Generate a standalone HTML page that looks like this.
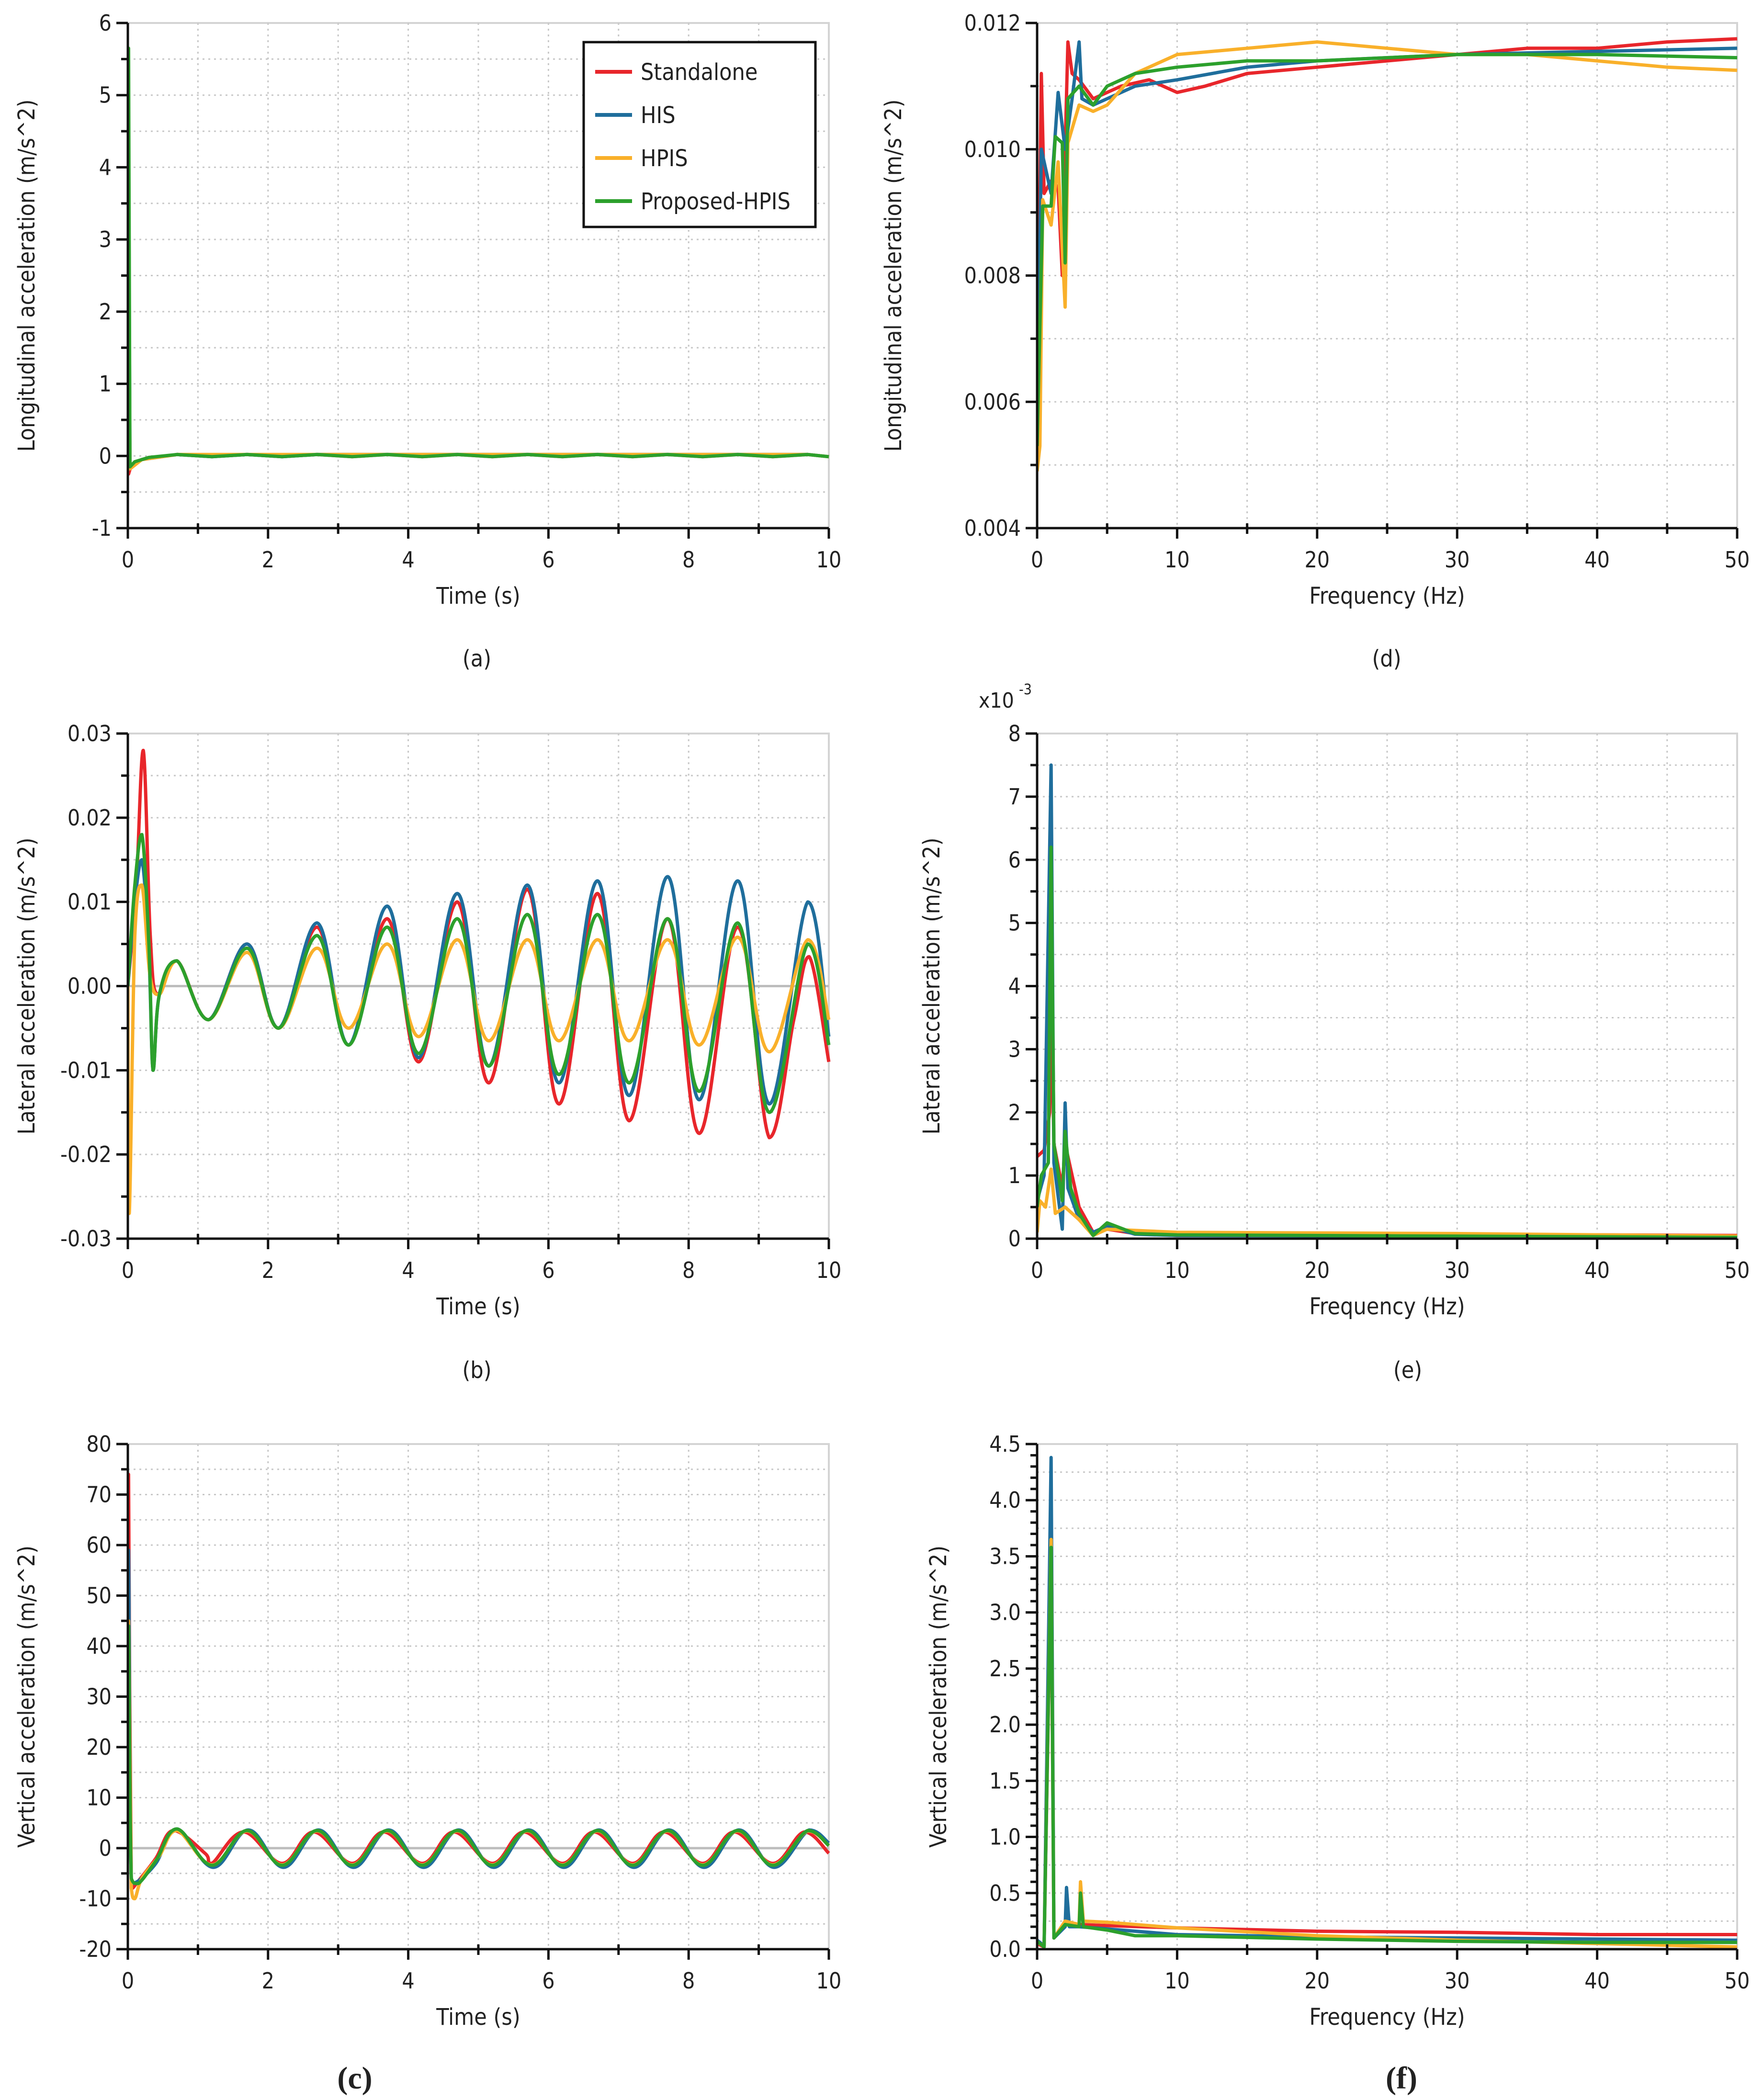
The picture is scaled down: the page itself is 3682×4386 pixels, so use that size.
<!DOCTYPE html>
<html><head><meta charset="utf-8"><style>
html,body{margin:0;padding:0;background:#fff}
svg{display:block}
text{fill:#222}
.sans{font-family:"DejaVu Sans Condensed","Liberation Sans",sans-serif}
.serif{font-family:"Liberation Serif",serif;font-weight:bold}
</style></head>
<body>
<svg id="fig" xmlns="http://www.w3.org/2000/svg" width="3682" height="4386" viewBox="0 0 3682 4386">
<rect width="3682" height="4386" fill="#fff"/>
</svg>
<script>
// ---- series names & colors ----
const seriesNames = ["Standalone","HIS","HPIS","Proposed-HPIS"];
const seriesColors = ["#e8262b","#1f6e9c","#f9b02a","#2ca02c"];

// ---- (a) longitudinal time ----
const aRed = [[0,0],[0.01,-0.25],[0.05,-0.12],[0.2,-0.05],[0.7,0.02],[1.2,-0.01],[1.7,0.02],[2.2,-0.01],[2.7,0.02],[3.2,-0.01],[3.7,0.02],[4.2,-0.01],[4.7,0.02],[5.2,-0.01],[5.7,0.02],[6.2,-0.01],[6.7,0.02],[7.2,-0.01],[7.7,0.02],[8.2,-0.01],[8.7,0.02],[9.2,-0.01],[9.7,0.02],[10,-0.01]];
const aBlue = [[0,0],[0.01,4.5],[0.03,-0.15],[0.2,-0.05],[0.7,0.02],[1.2,-0.01],[1.7,0.02],[2.2,-0.01],[2.7,0.02],[3.7,0.02],[4.7,0.02],[5.7,0.02],[6.7,0.02],[7.7,0.02],[8.7,0.02],[9.7,0.02],[10,-0.01]];
const aYellow = [[0,0],[0.01,3.5],[0.03,-0.18],[0.2,-0.05],[0.7,0.02],[1.7,0.02],[2.7,0.02],[3.7,0.02],[4.7,0.02],[5.7,0.02],[6.7,0.02],[7.7,0.02],[8.7,0.02],[9.7,0.02],[10,-0.01]];
const aGreen = [[0,0],[0.01,5.65],[0.03,-0.15],[0.1,-0.08],[0.3,-0.02],[0.7,0.02],[1.2,-0.01],[1.7,0.02],[2.2,-0.01],[2.7,0.02],[3.2,-0.01],[3.7,0.02],[4.2,-0.01],[4.7,0.02],[5.2,-0.01],[5.7,0.02],[6.2,-0.01],[6.7,0.02],[7.2,-0.01],[7.7,0.02],[8.2,-0.01],[8.7,0.02],[9.2,-0.01],[9.7,0.02],[10,-0.01]];

// ---- (b) lateral time ----
const bRed = [[0,0],[0.12,0.012],[0.22,0.028],[0.32,0.006],[0.42,-0.001],[0.7,0.003],[1.15,-0.004],[1.7,0.005],[2.15,-0.005],[2.7,0.007],[3.15,-0.007],[3.7,0.008],[4.15,-0.009],[4.7,0.010],[5.15,-0.0115],[5.7,0.0115],[6.15,-0.014],[6.7,0.011],[7.15,-0.016],[7.7,0.008],[8.15,-0.0175],[8.7,0.007],[9.15,-0.018],[9.5,-0.004],[9.72,0.0035],[10,-0.009]];
const bBlue = [[0,0],[0.1,0.01],[0.2,0.015],[0.3,0.004],[0.36,-0.01],[0.45,-0.001],[0.7,0.003],[1.15,-0.004],[1.7,0.005],[2.15,-0.005],[2.7,0.0075],[3.15,-0.007],[3.7,0.0095],[4.15,-0.0085],[4.7,0.011],[5.15,-0.0095],[5.7,0.012],[6.15,-0.0115],[6.7,0.0125],[7.15,-0.013],[7.7,0.013],[8.15,-0.0135],[8.7,0.0125],[9.15,-0.014],[9.7,0.010],[10,-0.006]];
const bYellow = [[0,0],[0.02,-0.027],[0.1,0.006],[0.2,0.012],[0.32,0.001],[0.45,-0.001],[0.7,0.003],[1.15,-0.004],[1.7,0.004],[2.15,-0.005],[2.7,0.0045],[3.15,-0.005],[3.7,0.005],[4.15,-0.006],[4.7,0.0055],[5.15,-0.0065],[5.7,0.0055],[6.15,-0.0065],[6.7,0.0055],[7.15,-0.0065],[7.7,0.0055],[8.15,-0.007],[8.7,0.0058],[9.15,-0.0078],[9.7,0.0055],[10,-0.004]];
const bGreen = [[0,0],[0.1,0.012],[0.2,0.018],[0.3,0.005],[0.36,-0.01],[0.45,-0.001],[0.7,0.003],[1.15,-0.004],[1.7,0.0045],[2.15,-0.005],[2.7,0.006],[3.15,-0.007],[3.7,0.007],[4.15,-0.008],[4.7,0.008],[5.15,-0.0095],[5.7,0.0085],[6.15,-0.0105],[6.7,0.0085],[7.15,-0.0115],[7.7,0.008],[8.15,-0.0125],[8.7,0.0075],[9.15,-0.015],[9.7,0.005],[10,-0.007]];

// ---- (c) vertical time ----
const cRed = [[0,0],[0.01,74],[0.05,-8],[0.15,-6.5],[0.4,-2],[0.65,3.5],[1.1,-1],[1.2,-3],[1.65,3.2],[2.2,-3],[2.65,3.2],[3.2,-3],[3.65,3.2],[4.2,-3],[4.65,3.2],[5.2,-3],[5.65,3.2],[6.2,-3],[6.65,3.2],[7.2,-3],[7.65,3.2],[8.2,-3],[8.65,3.2],[9.2,-3],[9.65,3.2],[10,-1]];
const cBlue = [[0,0],[0.01,59],[0.05,-7],[0.15,-6.5],[0.4,-3],[0.7,3.8],[1.22,-3.8],[1.72,3.6],[2.22,-3.8],[2.72,3.6],[3.22,-3.8],[3.72,3.6],[4.22,-3.8],[4.72,3.6],[5.22,-3.8],[5.72,3.6],[6.22,-3.8],[6.72,3.6],[7.22,-3.8],[7.72,3.6],[8.22,-3.8],[8.72,3.6],[9.22,-3.8],[9.72,3.6],[10,1]];
const cYellow = [[0,0],[0.01,45],[0.05,-8],[0.1,-10],[0.2,-6],[0.45,-1.5],[0.7,3.5],[1.2,-3.3],[1.7,3.4],[2.2,-3.3],[2.7,3.4],[3.2,-3.3],[3.7,3.4],[4.2,-3.3],[4.7,3.4],[5.2,-3.3],[5.7,3.4],[6.2,-3.3],[6.7,3.4],[7.2,-3.3],[7.7,3.4],[8.2,-3.3],[8.7,3.4],[9.2,-3.3],[9.7,3.4],[10,0.5]];
const cGreen = [[0,0],[0.01,44],[0.05,-6],[0.15,-7],[0.4,-2.5],[0.7,3.8],[1.2,-3.4],[1.7,3.5],[2.2,-3.4],[2.7,3.5],[3.2,-3.4],[3.7,3.5],[4.2,-3.4],[4.7,3.5],[5.2,-3.4],[5.7,3.5],[6.2,-3.4],[6.7,3.5],[7.2,-3.4],[7.7,3.5],[8.2,-3.4],[8.7,3.5],[9.2,-3.4],[9.7,3.5],[10,0.5]];

// ---- (d) longitudinal spectrum ----
const dRed = [[0,0.0055],[0.3,0.0112],[0.5,0.0093],[1,0.0095],[1.5,0.0094],[1.8,0.0080],[2,0.0100],[2.2,0.0117],[2.5,0.0112],[3,0.0111],[4,0.0108],[5,0.0109],[6,0.0110],[8,0.0111],[10,0.0109],[12,0.0110],[15,0.0112],[20,0.0113],[25,0.0114],[30,0.0115],[35,0.0116],[40,0.0116],[45,0.0117],[50,0.01175]];
const dBlue = [[0,0.0055],[0.3,0.0100],[1,0.0093],[1.5,0.0109],[2,0.0100],[2.5,0.0108],[3,0.0117],[3.2,0.0108],[4,0.0107],[5,0.0108],[7,0.0110],[10,0.0111],[15,0.0113],[20,0.0114],[30,0.0115],[40,0.01155],[50,0.0116]];
const dYellow = [[0,0.0049],[0.2,0.0053],[0.4,0.0092],[1,0.0088],[1.5,0.0098],[2,0.0075],[2.2,0.0101],[3,0.0107],[4,0.0106],[5,0.0107],[7,0.0112],[10,0.0115],[15,0.0116],[20,0.0117],[25,0.0116],[30,0.0115],[35,0.0115],[40,0.0114],[45,0.0113],[50,0.01125]];
const dGreen = [[0,0.0053],[0.4,0.0091],[1,0.0091],[1.3,0.0102],[1.8,0.0101],[2,0.0082],[2.2,0.0108],[3,0.0110],[4,0.0107],[5,0.0110],[7,0.0112],[10,0.0113],[15,0.0114],[20,0.0114],[30,0.0115],[40,0.0115],[50,0.01145]];

// ---- (e) lateral spectrum (x1e-3) ----
const eRed = [[0,1.3],[0.5,1.4],[0.9,2],[1.0,4],[1.2,1.5],[1.8,0.8],[2,1.5],[2.5,1.0],[3,0.5],[4,0.1],[5,0.15],[7,0.08],[10,0.05],[20,0.05],[30,0.05],[40,0.06],[50,0.05]];
const eBlue = [[0,0.6],[0.5,1],[1,7.5],[1.2,1.2],[1.8,0.15],[2,2.15],[2.2,0.8],[3,0.3],[4,0.1],[5,0.2],[7,0.07],[10,0.05],[50,0.03]];
const eYellow = [[0,0.1],[0.2,0.6],[0.6,0.5],[1,1.1],[1.3,0.4],[2,0.5],[3,0.3],[4,0.05],[5,0.15],[10,0.1],[30,0.08],[50,0.04]];
const eGreen = [[0,0.5],[0.3,1],[0.8,1.2],[1,6.2],[1.2,1.5],[1.8,0.6],[2,1.7],[2.4,0.8],[3,0.4],[4,0.05],[5,0.25],[7,0.08],[10,0.06],[50,0.02]];

// ---- (f) vertical spectrum ----
const fRed = [[0,0.05],[0.5,0.02],[1,3.5],[1.2,0.1],[2,0.24],[3,0.22],[5,0.21],[10,0.19],[20,0.16],[30,0.15],[40,0.13],[50,0.13]];
const fBlue = [[0,0.08],[0.5,0.03],[1,4.38],[1.2,0.1],[2,0.2],[2.1,0.55],[2.3,0.2],[3,0.2],[5,0.18],[10,0.13],[20,0.11],[30,0.1],[40,0.09],[50,0.08]];
const fYellow = [[0,0.06],[0.5,0.03],[1,3.65],[1.2,0.1],[2,0.25],[3,0.22],[3.1,0.6],[3.3,0.25],[5,0.24],[10,0.19],[20,0.12],[30,0.08],[40,0.05],[50,0.02]];
const fGreen = [[0,0.07],[0.5,0.02],[1,3.58],[1.2,0.1],[2,0.22],[3,0.2],[3.1,0.5],[3.3,0.2],[5,0.17],[7,0.12],[10,0.12],[20,0.09],[30,0.07],[40,0.06],[50,0.06]];

// ---- tick labels ----
const timeTicks = ["0","2","4","6","8","10"];
const freqTicks = ["0","10","20","30","40","50"];
const aYTicks = ["-1","0","1","2","3","4","5","6"];
const bYTicks = ["-0.03","-0.02","-0.01","0.00","0.01","0.02","0.03"];
const cYTicks = ["-20","-10","0","10","20","30","40","50","60","70","80"];
const dYTicks = ["0.004","0.006","0.008","0.010","0.012"];
const eYTicks = ["0","1","2","3","4","5","6","7","8"];
const fYTicks = ["0.0","0.5","1.0","1.5","2.0","2.5","3.0","3.5","4.0","4.5"];

const NS="http://www.w3.org/2000/svg";
const svg=document.getElementById('fig');
function mk(tag,attrs,parent){const e=document.createElementNS(NS,tag);for(const k in attrs)e.setAttribute(k,attrs[k]);(parent||svg).appendChild(e);return e;}

function smoothPath(pts){
  if(pts.length<2)return '';
  let d='M'+pts[0][0].toFixed(1)+','+pts[0][1].toFixed(1);
  for(let i=0;i<pts.length-1;i++){
    const p0=pts[Math.max(0,i-1)],p1=pts[i],p2=pts[i+1],p3=pts[Math.min(pts.length-1,i+2)];
    const t=0.18;
    const c1=[p1[0]+(p2[0]-p0[0])*t,p1[1]+(p2[1]-p0[1])*t];
    const c2=[p2[0]-(p3[0]-p1[0])*t,p2[1]-(p3[1]-p1[1])*t];
    c1[0]=Math.min(Math.max(c1[0],p1[0]),p2[0]);c2[0]=Math.min(Math.max(c2[0],p1[0]),p2[0]);
    const lo=Math.min(p1[1],p2[1]),hi=Math.max(p1[1],p2[1]);
    c1[1]=Math.min(Math.max(c1[1],lo),hi);c2[1]=Math.min(Math.max(c2[1],lo),hi);
    d+=' C'+c1[0].toFixed(1)+','+c1[1].toFixed(1)+' '+c2[0].toFixed(1)+','+c2[1].toFixed(1)+' '+p2[0].toFixed(1)+','+p2[1].toFixed(1);
  }
  return d;
}

function chart(o){
  const g=mk('g',{class:'sans'});
  
  
  const L=o.x0,R=o.x1,T=o.y0,B=o.y1;
  const xs=v=>L+(v-o.xmin)/(o.xmax-o.xmin)*(R-L);
  const ys=v=>B-(v-o.ymin)/(o.ymax-o.ymin)*(B-T);
  const fr=mk('rect',{x:L,y:T,width:R-L,height:B-T,fill:'none',stroke:'#d4d4d4','stroke-width':4},g);
  
  
  const xStep=(o.xmax-o.xmin)/o.xMajorN/2;
  for(let i=1;i<o.xMajorN*2;i++){
    const x=xs(o.xmin+i*xStep);
    const l=mk('line',{x1:x,x2:x,y1:T,y2:B,stroke:'#c8c8c8','stroke-width':3,'stroke-dasharray':'4 8'},g);
    
    
  }
  const ny=o.yTicks.length-1;
  const yStep=(o.ymax-o.ymin)/ny/2;
  for(let i=1;i<ny*2;i++){
    const y=ys(o.ymin+i*yStep);
    const l=mk('line',{x1:L,x2:R,y1:y,y2:y,stroke:'#c8c8c8','stroke-width':3,'stroke-dasharray':'4 8'},g);
    
    
  }
  if(o.zeroLine){
    const zl=mk('line',{x1:L,x2:R,y1:ys(0),y2:ys(0),stroke:'#bdbdbd','stroke-width':5},g);
    
    
  }
  const clipId='clip'+o.id;
  const cp=mk('clipPath',{id:clipId},g);mk('rect',{x:L,y:T-30,width:R-L+4,height:B-T+60},cp);
  o.series.forEach((s,i)=>{
    const pts=s.map(p=>[xs(p[0]),ys(p[1])]);
    const p=mk('path',{d:o.smooth?smoothPath(pts):'M'+pts.map(q=>q[0].toFixed(1)+','+q[1].toFixed(1)).join(' L'),fill:'none',stroke:seriesColors[i],'stroke-width':7,'stroke-linejoin':'round','clip-path':'url(#'+clipId+')'},g);
    
    
  });
  const ax=mk('line',{x1:L,x2:L,y1:T,y2:B+2,stroke:'#111','stroke-width':5},g);
  
  
  const bx=mk('line',{x1:L-2,x2:R,y1:B,y2:B,stroke:'#111','stroke-width':5},g);
  
  
  for(let i=0;i<=o.xMajorN*2;i++){
    const x=xs(o.xmin+i*xStep);const major=i%2==0;
    mk('line',{x1:x,x2:x,y1:B-(major?0:10),y2:B+(major?22:12),stroke:'#111','stroke-width':5},g);
  }
  o.xTicks.forEach((t,i)=>{
    const tx=mk('text',{x:xs(o.xmin+i*2*xStep),y:B+82,'font-size':46,'text-anchor':'middle'},g);
    tx.textContent=t;
    
    
  });
  const ymin=o.yMinor||2;
  const ms=(o.ymax-o.ymin)/ny/ymin;
  for(let i=0;i<=ny*ymin;i++){
    const y=ys(o.ymin+i*ms);const major=i%ymin==0;
    mk('line',{x1:L-(major?24:14),x2:L,y1:y,y2:y,stroke:'#111','stroke-width':5},g);
  }
  o.yTicks.forEach((t,i)=>{
    const tx=mk('text',{x:L-34,y:ys(o.ymin+i*(o.ymax-o.ymin)/ny)+16,'font-size':46,'text-anchor':'end'},g);
    tx.textContent=t;
    
    
  });
  const xt=mk('text',{x:(L+R)/2,y:B+158,'font-size':48,'text-anchor':'middle'},g);
  xt.textContent=o.xTitle;
  
  
  const yt=mk('text',{x:0,y:0,'font-size':48,'text-anchor':'middle',transform:'translate('+o.yTitleX+','+(T+B)/2+') rotate(-90)'},g);
  yt.textContent=o.yTitle;
  
  
  const cap=mk('text',{x:o.capX,y:o.capY,'font-size':o.capBold?66:48,'text-anchor':'middle',class:o.capBold?'serif':'sans'},g);
  cap.textContent=o.caption;
  
  
  return g;
}

const LX0=267,LX1=1731,RX0=2166,RX1=3628;
const R1=[48,1103],R2=[1532,2587],R3=[3016,4071];
chart({id:'a',name:'chart-a-longitudinal-time',x0:LX0,x1:LX1,y0:R1[0],y1:R1[1],xmin:0,xmax:10,ymin:-1,ymax:6,xMajorN:5,xTicks:timeTicks,yTicks:aYTicks,series:[aRed,aBlue,aYellow,aGreen],xTitle:'Time (s)',yTitle:'Longitudinal acceleration (m/s^2)',yTitleX:72,caption:'(a)',capX:996,capY:1392});
chart({id:'d',name:'chart-d-longitudinal-frequency',x0:RX0,x1:RX1,y0:R1[0],y1:R1[1],xmin:0,xmax:50,ymin:0.004,ymax:0.012,xMajorN:5,xTicks:freqTicks,yTicks:dYTicks,series:[dRed,dBlue,dYellow,dGreen],xTitle:'Frequency (Hz)',yTitle:'Longitudinal acceleration (m/s^2)',yTitleX:1882,caption:'(d)',capX:2896,capY:1392});
chart({id:'b',name:'chart-b-lateral-time',x0:LX0,x1:LX1,y0:R2[0],y1:R2[1],xmin:0,xmax:10,ymin:-0.03,ymax:0.03,xMajorN:5,xTicks:timeTicks,yTicks:bYTicks,series:[bRed,bBlue,bYellow,bGreen],smooth:true,zeroLine:true,xTitle:'Time (s)',yTitle:'Lateral acceleration (m/s^2)',yTitleX:72,caption:'(b)',capX:996,capY:2878});
chart({id:'e',name:'chart-e-lateral-frequency',x0:RX0,x1:RX1,y0:R2[0],y1:R2[1],xmin:0,xmax:50,ymin:0,ymax:8,xMajorN:5,xTicks:freqTicks,yTicks:eYTicks,series:[eRed,eBlue,eYellow,eGreen],xTitle:'Frequency (Hz)',yTitle:'Lateral acceleration (m/s^2)',yTitleX:1962,caption:'(e)',capX:2940,capY:2878});
chart({id:'c',name:'chart-c-vertical-time',x0:LX0,x1:LX1,y0:R3[0],y1:R3[1],xmin:0,xmax:10,ymin:-20,ymax:80,xMajorN:5,xTicks:timeTicks,yTicks:cYTicks,series:[cRed,cBlue,cYellow,cGreen],smooth:true,zeroLine:true,xTitle:'Time (s)',yTitle:'Vertical acceleration (m/s^2)',yTitleX:72,caption:'(c)',capX:741,capY:4362,capBold:true});
chart({id:'f',name:'chart-f-vertical-frequency',x0:RX0,x1:RX1,y0:R3[0],y1:R3[1],xmin:0,xmax:50,ymin:0,ymax:4.5,xMajorN:5,xTicks:freqTicks,yTicks:fYTicks,yMinor:5,series:[fRed,fBlue,fYellow,fGreen],xTitle:'Frequency (Hz)',yTitle:'Vertical acceleration (m/s^2)',yTitleX:1976,caption:'(f)',capX:2927,capY:4362,capBold:true});

const mult=mk('text',{x:2044,y:1478,'font-size':44,class:'sans'});


mult.textContent='x10';
const sup=mk('text',{x:2128,y:1450,'font-size':30,class:'sans'});
sup.textContent='-3';

const lg=mk('g',{class:'sans'});


mk('rect',{x:1219,y:88,width:484,height:386,fill:'#fff',stroke:'#111','stroke-width':5},lg);
seriesNames.forEach((n,i)=>{
  const y=150+i*90;
  const e=mk('g',{},lg);
  
  
  mk('line',{x1:1243,x2:1320,y1:y,y2:y,stroke:seriesColors[i],'stroke-width':8},e);
  const t=mk('text',{x:1338,y:y+17,'font-size':48},e);
  t.textContent=n;
});
</script>
</body></html>
